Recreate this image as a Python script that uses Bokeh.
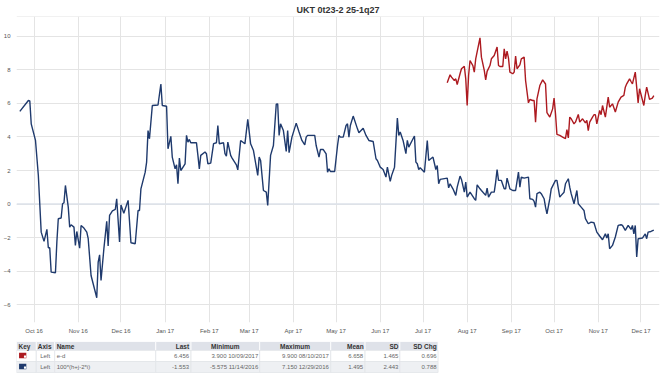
from datetime import datetime
import pandas as pd
from bokeh.plotting import figure
from bokeh.models import ColumnDataSource, Range1d, FixedTicker, DatetimeTickFormatter, Span
from bokeh.layouts import column
from bokeh.embed import file_html
from bokeh.resources import INLINE
from bokeh.core.properties import value

TITLE = "UKT 0t23-2 25-1q27"
BLUE = "#1f3a6d"
RED = "#ad1a20"

blue_dates = [
    "2016-09-21", "2016-09-27", "2016-09-28", "2016-09-29", "2016-10-02", "2016-10-04", "2016-10-06",
    "2016-10-08", "2016-10-10", "2016-10-11", "2016-10-12", "2016-10-13", "2016-10-16", "2016-10-17",
    "2016-10-18", "2016-10-20", "2016-10-21", "2016-10-22", "2016-10-23", "2016-10-25", "2016-10-26",
    "2016-10-27", "2016-10-29", "2016-10-30", "2016-10-31", "2016-11-02", "2016-11-03", "2016-11-05",
    "2016-11-07", "2016-11-08", "2016-11-10", "2016-11-14", "2016-11-15", "2016-11-16", "2016-11-17",
    "2016-11-19", "2016-11-21", "2016-11-22", "2016-11-23", "2016-11-25", "2016-11-27", "2016-11-28",
    "2016-11-30", "2016-12-01", "2016-12-03", "2016-12-06", "2016-12-08", "2016-12-11", "2016-12-13",
    "2016-12-14", "2016-12-15", "2016-12-18", "2016-12-19", "2016-12-20", "2016-12-21", "2016-12-23",
    "2016-12-27", "2016-12-29", "2016-12-30", "2017-01-02", "2017-01-03", "2017-01-05", "2017-01-06",
    "2017-01-08", "2017-01-09", "2017-01-10", "2017-01-11", "2017-01-12", "2017-01-15", "2017-01-16",
    "2017-01-17", "2017-01-18", "2017-01-19", "2017-01-23", "2017-01-24", "2017-01-25", "2017-01-26",
    "2017-01-29", "2017-01-30", "2017-01-31", "2017-02-02", "2017-02-04", "2017-02-06", "2017-02-07",
    "2017-02-08", "2017-02-11", "2017-02-12", "2017-02-13", "2017-02-14", "2017-02-16", "2017-02-17",
    "2017-02-18", "2017-02-20", "2017-02-21", "2017-02-23", "2017-02-26", "2017-02-28", "2017-03-02",
    "2017-03-04", "2017-03-07", "2017-03-08", "2017-03-09", "2017-03-11", "2017-03-13", "2017-03-14",
    "2017-03-16", "2017-03-18", "2017-03-20", "2017-03-21", "2017-03-22", "2017-03-23", "2017-03-25",
    "2017-03-27", "2017-03-28", "2017-03-29", "2017-03-31", "2017-04-03", "2017-04-05", "2017-04-07",
    "2017-04-09", "2017-04-10", "2017-04-11", "2017-04-16", "2017-04-17", "2017-04-19", "2017-04-20",
    "2017-04-22", "2017-04-24", "2017-04-25", "2017-04-26", "2017-04-27", "2017-04-30", "2017-05-02",
    "2017-05-03", "2017-05-04", "2017-05-06", "2017-05-08", "2017-05-09", "2017-05-10", "2017-05-11",
    "2017-05-13", "2017-05-16", "2017-05-17", "2017-05-20", "2017-05-22", "2017-05-24", "2017-05-27",
    "2017-05-29", "2017-05-30", "2017-06-01", "2017-06-03", "2017-06-05", "2017-06-06", "2017-06-08",
    "2017-06-09", "2017-06-11", "2017-06-13", "2017-06-14", "2017-06-15", "2017-06-17", "2017-06-19",
    "2017-06-20", "2017-06-21", "2017-06-24", "2017-06-25", "2017-06-26", "2017-06-27", "2017-06-28",
    "2017-06-29", "2017-07-02", "2017-07-04", "2017-07-05", "2017-07-08", "2017-07-10", "2017-07-11",
    "2017-07-12", "2017-07-13", "2017-07-18", "2017-07-19", "2017-07-20", "2017-07-22", "2017-07-24",
    "2017-07-25", "2017-07-27", "2017-07-28", "2017-07-30", "2017-07-31", "2017-08-01", "2017-08-03",
    "2017-08-06", "2017-08-07", "2017-08-08", "2017-08-10", "2017-08-11", "2017-08-14", "2017-08-15",
    "2017-08-16", "2017-08-18", "2017-08-20", "2017-08-21", "2017-08-22", "2017-08-23", "2017-08-25",
    "2017-08-27", "2017-08-28", "2017-08-29", "2017-08-31", "2017-09-02", "2017-09-04", "2017-09-06",
    "2017-09-07", "2017-09-08", "2017-09-10", "2017-09-13", "2017-09-14", "2017-09-16", "2017-09-17",
    "2017-09-18", "2017-09-19", "2017-09-21", "2017-09-22", "2017-09-24", "2017-09-25", "2017-09-26",
    "2017-09-28", "2017-09-29", "2017-10-02", "2017-10-03", "2017-10-05", "2017-10-06", "2017-10-08",
    "2017-10-09", "2017-10-11", "2017-10-12", "2017-10-13", "2017-10-15", "2017-10-17", "2017-10-18",
    "2017-10-20", "2017-10-22", "2017-10-23", "2017-10-25", "2017-10-27", "2017-10-29", "2017-10-31",
    "2017-11-02", "2017-11-04", "2017-11-06", "2017-11-07", "2017-11-08", "2017-11-09", "2017-11-11",
    "2017-11-13", "2017-11-15", "2017-11-17", "2017-11-18", "2017-11-20", "2017-11-22", "2017-11-24",
    "2017-11-25", "2017-11-26", "2017-11-27", "2017-11-28", "2017-11-29", "2017-12-02", "2017-12-04",
    "2017-12-05", "2017-12-06", "2017-12-08", "2017-12-10",
]
blue_values = [
    5.52, 6.17, 6.15, 4.78, 3.79, 1.70, -1.67,
    -2.22, -1.50, -2.60, -2.60, -4.05, -4.09, -2.26,
    -0.87, -0.83, 0.02, 0.08, 1.11, -0.18, -1.37,
    -1.23, -1.37, -2.46, -1.63, -2.62, -1.27, -1.43,
    -1.67, -2.06, -4.25, -5.575, -3.45, -3.02, -4.54,
    -2.66, -1.03, -2.50, -0.67, -0.40, -0.32, 0.32,
    -2.26, -0.05, -0.55, 0.22, -2.30, -2.36, -0.38,
    -0.38, 0.91, 1.90, 2.50, 4.38, 3.89, 5.87,
    5.90, 7.15, 5.87, 5.83, 3.29, 4.03, 2.80,
    2.10, 2.34, 1.21, 2.74, 2.00, 2.40, 4.09,
    3.69, 3.85, 3.65, 3.65, 2.90, 2.10, 2.90,
    3.10, 3.00, 2.40, 2.44, 3.60, 3.65, 4.68,
    3.59, 3.65, 3.00, 2.86, 3.69, 2.90, 2.74,
    2.60, 2.34, 2.04, 3.79, 3.59, 5.04, 3.59,
    3.19, 1.71, 2.80, 2.60, 0.81, 0.71, -0.08,
    2.90, 3.49, 5.95, 5.97, 4.09, 4.78, 4.38,
    3.13, 4.38, 3.06, 3.99, 4.82, 4.29, 3.79,
    3.53, 3.99, 4.09, 4.09, 3.49, 2.80, 3.25,
    3.25, 2.99, 1.90, 2.10, 1.94, 1.94, 3.49,
    4.09, 3.99, 3.99, 4.68, 4.78, 3.99, 4.68,
    5.24, 4.48, 4.25, 4.52, 4.09, 3.79, 3.73,
    2.70, 2.60, 2.20, 2.06, 1.61, 2.20, 1.35,
    1.71, 2.20, 5.12, 4.09, 4.29, 3.79, 3.00,
    3.79, 3.39, 3.89, 4.05, 2.50, 2.40, 2.06,
    2.16, 1.90, 3.79, 2.60, 2.80, 2.06, 2.30,
    1.21, 1.47, 1.55, 0.97, 1.21, 0.91, 0.52,
    1.01, 1.67, 1.47, 0.71, 1.31, 0.42, 0.71,
    0.32, 0.22, 1.15, 0.91, 0.81, 0.52, 0.95,
    0.42, 0.71, 0.71, 1.31, 2.06, 1.41, 1.41,
    0.91, 0.91, 1.55, 0.91, 0.81, 0.81, 1.90,
    1.01, 1.61, 1.55, 1.61, 0.32, 0.28, 0.16,
    -0.18, 0.62, 0.71, 0.62, 0.32, -0.18, -0.58,
    0.32, 0.91, 1.41, 1.41, 0.42, 0.52, 0.71,
    1.21, 1.51, 1.01, 0.62, 0.02, 0.81, 0.02,
    -0.18, -0.38, -0.87, -1.17, -1.07, -1.11, -1.67,
    -1.90, -2.12, -1.77, -2.02, -1.77, -2.66, -2.46,
    -1.96, -1.27, -1.23, -1.27, -1.57, -1.27, -1.51,
    -1.27, -1.77, -1.27, -3.15, -2.06, -2.02, -1.77,
    -2.06, -1.67, -1.63, -1.553,
]

red_dates = [
    "2017-07-18", "2017-07-20", "2017-07-21", "2017-07-23", "2017-07-24", "2017-07-25", "2017-07-27",
    "2017-07-28", "2017-07-30", "2017-07-31", "2017-08-01", "2017-08-02", "2017-08-03", "2017-08-05",
    "2017-08-06", "2017-08-07", "2017-08-10", "2017-08-11", "2017-08-13", "2017-08-14", "2017-08-15",
    "2017-08-17", "2017-08-18", "2017-08-20", "2017-08-22", "2017-08-23", "2017-08-24", "2017-08-26",
    "2017-08-27", "2017-08-28", "2017-08-29", "2017-08-30", "2017-08-31", "2017-09-02", "2017-09-03",
    "2017-09-04", "2017-09-05", "2017-09-07", "2017-09-08", "2017-09-10", "2017-09-11", "2017-09-13",
    "2017-09-14", "2017-09-16", "2017-09-17", "2017-09-18", "2017-09-19", "2017-09-21", "2017-09-23",
    "2017-09-25", "2017-09-26", "2017-09-28", "2017-09-30", "2017-10-01", "2017-10-02", "2017-10-03",
    "2017-10-05", "2017-10-07", "2017-10-09", "2017-10-10", "2017-10-11", "2017-10-12", "2017-10-13",
    "2017-10-15", "2017-10-16", "2017-10-18", "2017-10-19", "2017-10-21", "2017-10-23", "2017-10-24",
    "2017-10-25", "2017-10-26", "2017-10-28", "2017-10-29", "2017-10-30", "2017-10-31", "2017-11-02",
    "2017-11-03", "2017-11-04", "2017-11-06", "2017-11-08", "2017-11-09", "2017-11-11", "2017-11-13",
    "2017-11-15", "2017-11-17", "2017-11-19", "2017-11-20", "2017-11-21", "2017-11-23", "2017-11-24",
    "2017-11-25", "2017-11-27", "2017-11-29", "2017-11-30", "2017-12-03", "2017-12-04", "2017-12-05",
    "2017-12-07", "2017-12-09", "2017-12-10",
]
red_values = [
    7.22, 7.70, 7.56, 7.36, 7.46, 7.12, 7.76,
    8.06, 8.21, 7.46, 5.87, 7.66, 8.55, 8.25,
    7.86, 8.65, 9.90, 8.75, 7.96, 7.40, 7.90,
    8.25, 8.65, 8.85, 9.35, 8.25, 8.19, 8.19,
    9.25, 8.65, 9.11, 8.69, 7.86, 7.76, 7.86,
    8.81, 8.06, 8.29, 8.65, 8.75, 7.36, 6.03,
    6.23, 6.17, 6.17, 4.88, 6.27, 7.06, 7.40,
    7.15, 5.44, 5.18, 5.67, 6.31, 5.38, 4.15,
    4.09, 3.99, 3.90, 4.44, 3.94, 5.18, 5.08,
    4.78, 4.88, 5.34, 4.88, 5.08, 4.84, 4.98,
    4.38, 4.88, 5.18, 5.32, 5.32, 4.78, 5.58,
    5.32, 5.87, 5.18, 6.37, 5.77, 5.97, 5.48,
    6.07, 6.37, 6.47, 6.96, 7.16, 7.46, 7.30,
    7.16, 7.86, 6.03, 6.87, 5.87, 6.47, 6.96,
    6.23, 6.31, 6.456,
]

y_ticks = [-6, -4, -2, 0, 2, 4, 6, 8, 10]
month_ticks = pd.date_range("2016-10-01", "2017-12-01", freq="MS")

# summary table
table_headers = ["Key", "Axis", "Name", "Last", "Minimum", "Maximum", "Mean", "SD", "SD Chg"]
series_colors = [RED, BLUE]
series_axis = ["Left", "Left"]
series_names = ["e-d", "100*(h+j-2*i)"]
series_last = ["6.456", "-1.553"]
series_min = ["3.900 10/09/2017", "-5.575 11/14/2016"]
series_max = ["9.900 08/10/2017", "7.150 12/29/2016"]
series_mean = ["6.658", "1.495"]
series_sd = ["1.465", "2.443"]
series_sdchg = ["0.696", "0.788"]

FONT = value("Liberation Sans")

# ---------------- main chart ----------------
p = figure(width=665, height=340, x_axis_type="datetime",
           x_range=Range1d(datetime(2016, 9, 18, 16), datetime(2017, 12, 14)),
           y_range=Range1d(-7.05, 11.17),
           output_backend="svg", toolbar_location=None, title=TITLE,
           min_border_left=15, min_border_right=6, min_border_top=16, min_border_bottom=18)
p.title.align = "center"
p.title.text_font = "Liberation Sans"
p.title.text_font_size = "9px"
p.title.text_font_style = "bold"
p.title.text_color = "#333333"
p.title.standoff = 3
p.outline_line_color = None
p.background_fill_color = "white"
p.border_fill_color = "white"

p.yaxis.ticker = FixedTicker(ticks=y_ticks)
p.xaxis.ticker = FixedTicker(ticks=[t.timestamp() * 1000 for t in month_ticks])
p.xaxis.formatter = DatetimeTickFormatter(days="%b %y", months="%b %y", years="%b %y",
                                          hours="%b %y", minutes="%b %y")
for ax in (p.xaxis[0], p.yaxis[0]):
    ax.axis_line_color = None
    ax.major_tick_line_color = None
    ax.minor_tick_line_color = None
    ax.major_tick_out = 0
    ax.major_tick_in = 0
    ax.minor_tick_out = 0
    ax.minor_tick_in = 0
    ax.major_label_text_font = "Liberation Sans"
    ax.major_label_text_font_size = "6px"
    ax.major_label_text_color = "#555555"
p.xaxis.major_label_standoff = 5
p.yaxis.major_label_standoff = 6
p.xgrid.ticker = p.xaxis.ticker
p.ygrid.ticker = p.yaxis.ticker
p.xgrid.grid_line_color = "#e4e4e4"
p.ygrid.grid_line_color = "#e4e4e4"

p.add_layout(Span(location=11.17, dimension="width", line_color="#e4e4e4", line_width=1,
                  level="underlay"))
p.add_layout(Span(location=0, dimension="width", line_color="#dde2ea", line_width=1.5,
                  level="underlay"))

blue_src = ColumnDataSource(dict(date=pd.to_datetime(blue_dates), value=blue_values))
red_src = ColumnDataSource(dict(date=pd.to_datetime(red_dates), value=red_values))
p.line("date", "value", source=blue_src, line_color=BLUE, line_width=1.4)
p.line("date", "value", source=red_src, line_color=RED, line_width=1.4)

# ---------------- summary table ----------------
t = figure(width=665, height=38, x_range=Range1d(0, 665), y_range=Range1d(38, 0),
           output_backend="svg", toolbar_location=None, min_border=0,
           x_axis_location=None, y_axis_location=None)
t.grid.visible = False
t.outline_line_color = None
t.background_fill_color = "white"
t.border_fill_color = "white"

col_edges = [0, 20.5, 39.5, 144, 180.5, 251.5, 325, 360.5, 396.5, 436]
row_edges = [1, 10, 21, 32]
row_fills = ["#dfe2e9", "#ffffff", "#eef0f3"]
for r in range(3):
    t.quad(left=col_edges[:-1], right=col_edges[1:],
           top=[row_edges[r]] * 9, bottom=[row_edges[r + 1]] * 9,
           fill_color=row_fills[r], line_color="#ffffff" if r == 0 else "#e2e4e8", line_width=0.8)

hdr_y = (row_edges[0] + row_edges[1]) / 2
hdr_style = dict(text_font=FONT, text_font_size="6.5px", text_font_style="bold",
                 text_color="#333333", text_baseline="middle")
t.text(x=[2, 22, 41.5], y=[hdr_y] * 3, text=table_headers[0:3], text_align="left", **hdr_style)
t.text(x=[178.5], y=[hdr_y], text=[table_headers[3]], text_align="right", **hdr_style)
t.text(x=[216, 288], y=[hdr_y] * 2, text=table_headers[4:6], text_align="center", **hdr_style)
t.text(x=[359, 395, 434.5], y=[hdr_y] * 3, text=table_headers[6:9], text_align="right", **hdr_style)

row_y = [(row_edges[i] + row_edges[i + 1]) / 2 for i in (1, 2)]
cell_style = dict(text_font=FONT, text_font_size="6px", text_color="#666666", text_baseline="middle")
# key swatches
t.rect(x=[6.4, 6.4], y=[ry - 0.5 for ry in row_y], width=7.5, height=5.5,
       fill_color=series_colors, line_color=None)
t.rect(x=[8.8, 8.8], y=[ry + 0.6 for ry in row_y], width=2.2, height=2.2,
       fill_color="white", line_color=None)
t.text(x=[24.5] * 2, y=row_y, text=series_axis, text_align="left", **cell_style)
t.text(x=[41.5] * 2, y=row_y, text=series_names, text_align="left", **cell_style)
t.text(x=[178.5] * 2, y=row_y, text=series_last, text_align="right", **cell_style)
t.text(x=[250] * 2, y=row_y, text=series_min, text_align="right", **cell_style)
t.text(x=[323] * 2, y=row_y, text=series_max, text_align="right", **cell_style)
t.text(x=[358.5] * 2, y=row_y, text=series_mean, text_align="right", **cell_style)
t.text(x=[395] * 2, y=row_y, text=series_sd, text_align="right", **cell_style)
t.text(x=[434.5] * 2, y=row_y, text=series_sdchg, text_align="right", **cell_style)

layout = column(p, t, spacing=0)
open("out.html", "w").write(file_html(layout, INLINE))
